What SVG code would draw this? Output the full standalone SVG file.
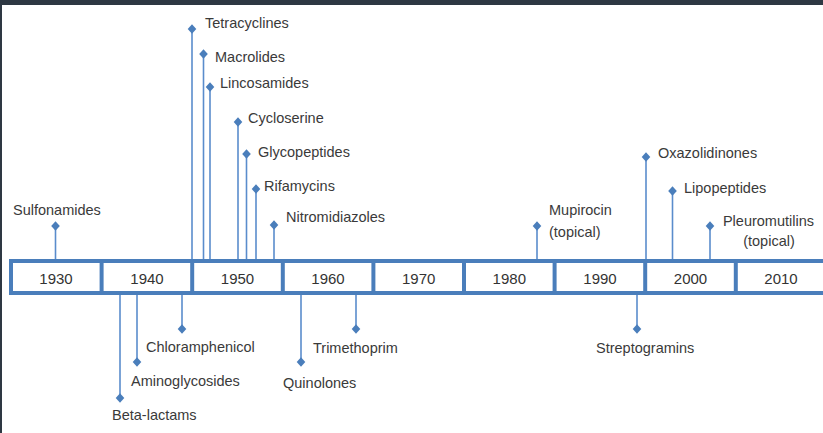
<svg xmlns="http://www.w3.org/2000/svg" width="823" height="433" viewBox="0 0 823 433">
<style>
.lbl{font-family:"Liberation Sans",Arial,sans-serif;font-size:14.5px;fill:#3a3a3a}
.yr{font-family:"Liberation Sans",Arial,sans-serif;font-size:15px;fill:#333;text-anchor:middle}
.stem{stroke:#5a8ccc;stroke-width:1.6;fill:none}
.dia{fill:#4a7ebb}
.bar{fill:#fff;stroke:#4a7ebb;stroke-width:4}
.div{stroke:#4a7ebb;stroke-width:4}
</style>
<defs>
<path id="d" class="dia" d="M0,-4.8 L4.3,0 L0,4.8 L-4.3,0Z"/>
</defs>
<rect x="0" y="0" width="823" height="433" fill="#fff"/>
<rect x="0" y="0" width="823" height="5" fill="#2e3843"/>
<rect x="0" y="0" width="2" height="433" fill="#2e3843"/>

<g id="connectors">
<line class="stem" x1="55.5" y1="226" x2="55.5" y2="259"/>
<line class="stem" x1="192" y1="29" x2="192" y2="259"/>
<line class="stem" x1="203.5" y1="54" x2="203.5" y2="259"/>
<line class="stem" x1="210" y1="87" x2="210" y2="259"/>
<line class="stem" x1="238" y1="122" x2="238" y2="259"/>
<line class="stem" x1="246.5" y1="154" x2="246.5" y2="259"/>
<line class="stem" x1="256" y1="189" x2="256" y2="259"/>
<line class="stem" x1="274" y1="225" x2="274" y2="259"/>
<line class="stem" x1="537" y1="226" x2="537" y2="259"/>
<line class="stem" x1="646" y1="157" x2="646" y2="259"/>
<line class="stem" x1="672.5" y1="191" x2="672.5" y2="259"/>
<line class="stem" x1="710" y1="226" x2="710" y2="259"/>
<line class="stem" x1="120" y1="295" x2="120" y2="398"/>
<line class="stem" x1="137" y1="295" x2="137" y2="362"/>
<line class="stem" x1="182" y1="295" x2="182" y2="329"/>
<line class="stem" x1="301" y1="295" x2="301" y2="362"/>
<line class="stem" x1="356" y1="295" x2="356" y2="329"/>
<line class="stem" x1="637" y1="295" x2="637" y2="329"/>
</g>

<g id="timeline">
<rect class="bar" x="11" y="261" width="830" height="32"/>
<line class="div" x1="101.6" y1="261" x2="101.6" y2="293"/>
<line class="div" x1="192.2" y1="261" x2="192.2" y2="293"/>
<line class="div" x1="282.8" y1="261" x2="282.8" y2="293"/>
<line class="div" x1="373.4" y1="261" x2="373.4" y2="293"/>
<line class="div" x1="464" y1="261" x2="464" y2="293"/>
<line class="div" x1="554.6" y1="261" x2="554.6" y2="293"/>
<line class="div" x1="645.2" y1="261" x2="645.2" y2="293"/>
<line class="div" x1="735.8" y1="261" x2="735.8" y2="293"/>
<text class="yr" x="56" y="284">1930</text>
<text class="yr" x="147" y="284">1940</text>
<text class="yr" x="237.5" y="284">1950</text>
<text class="yr" x="328" y="284">1960</text>
<text class="yr" x="418.7" y="284">1970</text>
<text class="yr" x="509.3" y="284">1980</text>
<text class="yr" x="600" y="284">1990</text>
<text class="yr" x="690.5" y="284">2000</text>
<text class="yr" x="781" y="284">2010</text>
</g>

<g id="sulfonamides"><use href="#d" x="55.5" y="226"/><text class="lbl" x="13" y="215">Sulfonamides</text></g>
<g id="tetracyclines"><use href="#d" x="192" y="29"/><text class="lbl" x="205" y="28">Tetracyclines</text></g>
<g id="macrolides"><use href="#d" x="203.5" y="54"/><text class="lbl" x="215" y="62">Macrolides</text></g>
<g id="lincosamides"><use href="#d" x="210" y="87"/><text class="lbl" x="220" y="88">Lincosamides</text></g>
<g id="cycloserine"><use href="#d" x="238" y="122"/><text class="lbl" x="248" y="123">Cycloserine</text></g>
<g id="glycopeptides"><use href="#d" x="246.5" y="154"/><text class="lbl" x="258" y="157">Glycopeptides</text></g>
<g id="rifamycins"><use href="#d" x="256" y="189"/><text class="lbl" x="264" y="191">Rifamycins</text></g>
<g id="nitromidiazoles"><use href="#d" x="274" y="225"/><text class="lbl" x="286" y="222">Nitromidiazoles</text></g>
<g id="mupirocin"><use href="#d" x="537" y="226"/><text class="lbl" x="549" y="215">Mupirocin</text><text class="lbl" x="549" y="237">(topical)</text></g>
<g id="oxazolidinones"><use href="#d" x="646" y="157"/><text class="lbl" x="658" y="158">Oxazolidinones</text></g>
<g id="lipopeptides"><use href="#d" x="672.5" y="191"/><text class="lbl" x="684" y="193">Lipopeptides</text></g>
<g id="pleuromutilins"><use href="#d" x="710" y="226"/><text class="lbl" x="768.5" y="226" text-anchor="middle">Pleuromutilins</text><text class="lbl" x="769" y="246" text-anchor="middle">(topical)</text></g>
<g id="beta-lactams"><use href="#d" x="120" y="398"/><text class="lbl" x="112" y="420">Beta-lactams</text></g>
<g id="aminoglycosides"><use href="#d" x="137" y="362"/><text class="lbl" x="131" y="386">Aminoglycosides</text></g>
<g id="chloramphenicol"><use href="#d" x="182" y="329"/><text class="lbl" x="146" y="352">Chloramphenicol</text></g>
<g id="quinolones"><use href="#d" x="301" y="362"/><text class="lbl" x="283" y="388">Quinolones</text></g>
<g id="trimethoprim"><use href="#d" x="356" y="329"/><text class="lbl" x="313" y="353">Trimethoprim</text></g>
<g id="streptogramins"><use href="#d" x="637" y="329"/><text class="lbl" x="596" y="353">Streptogramins</text></g>
</svg>
